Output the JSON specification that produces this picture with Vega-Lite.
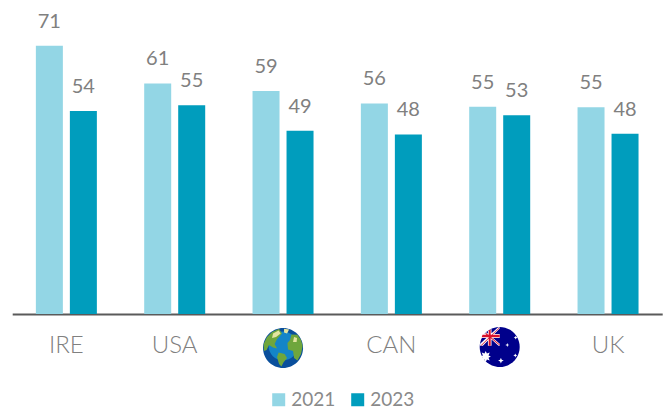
{
"$schema":"https://vega.github.io/schema/vega-lite/v6.json",
"width":650,"height":309,
"autosize":{"type":"none"},
"padding":{"left":12.2,"top":5,"right":5.8,"bottom":96},
"background":"white",
"config":{"view":{"stroke":null},"font":"Lato"},
"datasets":{
"bars":[
{"country":"IRE","year":"2021","value":71,"label":71},
{"country":"IRE","year":"2023","value":53.7,"label":54},
{"country":"USA","year":"2021","value":61,"label":61},
{"country":"USA","year":"2023","value":55.2,"label":55},
{"country":"Global","year":"2021","value":59,"label":59},
{"country":"Global","year":"2023","value":48.5,"label":49},
{"country":"CAN","year":"2021","value":55.7,"label":56},
{"country":"CAN","year":"2023","value":47.5,"label":48},
{"country":"AUS","year":"2021","value":54.8,"label":55},
{"country":"AUS","year":"2023","value":52.6,"label":53},
{"country":"UK","year":"2021","value":54.7,"label":55},
{"country":"UK","year":"2023","value":47.7,"label":48}
],
"g":[{"country":"Global"}],
"a":[{"country":"AUS"}]
},
"data":{"name":"bars"},
"encoding":{
"x":{"field":"country","type":"nominal","sort":null,"title":null,
"scale":{"paddingInner":0,"paddingOuter":0},
"axis":{"domainColor":"#5a5a5a","domainWidth":2,"ticks":false,"labelAngle":0,"labelFont":"Lato","labelFontWeight":300,"labelFontSize":24,"labelColor":"#808080","labelPadding":19,"grid":false,
"labelExpr":"datum.value=='Global'||datum.value=='AUS'?'':datum.label"}}
},
"layer":[
{"mark":{"type":"bar","opacity":1},
"encoding":{
"xOffset":{"field":"year","type":"nominal","scale":{"paddingInner":0.206,"paddingOuter":0.696}},
"y":{"field":"value","type":"quantitative","axis":null,"scale":{"domain":[0,81.75],"nice":false}},
"color":{"field":"year","type":"nominal","scale":{"domain":["2021","2023"],"range":["#93d6e5","#009dbd"]},
"legend":{"title":null,"orient":"none","legendX":257,"legendY":385,"direction":"horizontal","symbolType":"square","symbolSize":169,"symbolStrokeWidth":0,"symbolOpacity":1,"labelFont":"Lato","labelFontWeight":400,"labelFontSize":19,"labelColor":"#8a8a8a","labelOffset":3,"columnPadding":12,"symbolLimit":2}}
}},
{"mark":{"type":"text","font":"Lato","fontWeight":400,"fontSize":20,"color":"#808080","baseline":"middle","dy":-24},
"encoding":{
"xOffset":{"field":"year","type":"nominal","scale":{"paddingInner":0.206,"paddingOuter":0.696}},
"y":{"field":"value","type":"quantitative","axis":null},
"text":{"field":"label","type":"quantitative"}
}},
{"data":{"name":"g"},"mark":{"type":"point","filled":true,"opacity":1,"strokeWidth":0,"size":1600,"yOffset":34,"color":"#0a4f9c","shape":"M-1,0A1,1 0 1,1 1,0A1,1 0 1,1 -1,0Z"},
"encoding":{"y":{"datum":0,"type":"quantitative","axis":null}}},
{"data":{"name":"g"},"mark":{"type":"point","filled":true,"opacity":1,"strokeWidth":0,"size":1600,"yOffset":34,"color":"#1485c8","shape":"M-.72,-.1A.72,.72 0 1,1 .72,-.1A.72,.72 0 1,1 -.72,-.1Z"},
"encoding":{"y":{"datum":0,"type":"quantitative","axis":null}}},
{"data":{"name":"g"},"mark":{"type":"point","filled":true,"opacity":1,"strokeWidth":0,"size":1600,"yOffset":34,"color":"#6fa63c","shape":"M-.55,-.8L-.2,-.95L-.05,-.72L-.3,-.45L-.42,-.2L-.3,.02L-.5,-.02L-.7,-.15L-.82,.1L-.95,.15L-.97,-.2L-.8,-.55ZM-.22,.22L.08,.3L.2,.5L.02,.72L-.08,.92L-.2,.8L-.3,.45ZM.42,-.68L.72,-.66L.9,-.4L.98,-.1L.9,.3L.72,.62L.55,.5L.5,.15L.25,.08L.22,-.25L.35,-.4Z"},
"encoding":{"y":{"datum":0,"type":"quantitative","axis":null}}},
{"data":{"name":"g"},"mark":{"type":"point","filled":true,"opacity":1,"strokeWidth":0,"size":1600,"yOffset":34,"color":"#e3e5a0","shape":"M-.5,-.72L-.22,-.88L-.12,-.72L-.35,-.55L-.55,-.5ZM.05,-.96L.3,-.92L.2,-.72L.05,-.78ZM.55,-.55L.7,-.5L.68,-.3L.5,-.3Z"},
"encoding":{"y":{"datum":0,"type":"quantitative","axis":null}}},
{"data":{"name":"a"},"mark":{"type":"point","filled":true,"opacity":1,"strokeWidth":0,"size":1600,"yOffset":33,"color":"#00008b","shape":"M-1,0A1,1 0 1,1 1,0A1,1 0 1,1 -1,0Z"},
"encoding":{"y":{"datum":0,"type":"quantitative","axis":null}}},
{"data":{"name":"a"},"mark":{"type":"point","filled":true,"opacity":1,"strokeWidth":0,"size":1600,"yOffset":33,"color":"#ffffff","shape":"M-.74,-.67L-.67,-.74L0,-.16L0,-.06L-.06,-.06ZM-.08,-.99L0,-.99L0,-.92L-.84,-.06L-.98,-.06L-.98,-.16ZM-.59,-.8L-.41,-.9L-.41,-.06L-.59,-.06ZM-.84,-.65L0,-.65L0,-.45L-.94,-.45Z M-.7,.2L-.64,.33L-.5,.28L-.56,.42L-.44,.48L-.56,.54L-.5,.68L-.64,.62L-.7,.76L-.76,.62L-.9,.68L-.84,.54L-.96,.48L-.84,.42L-.9,.28L-.76,.33Z M.38,-.2L.41,-.13L.48,-.1L.41,-.07L.38,0L.35,-.07L.28,-.1L.35,-.13Z M.8,-.56L.83,-.5L.9,-.47L.83,-.44L.8,-.38L.77,-.44L.7,-.47L.77,-.5Z M.78,.32L.81,.39L.88,.42L.81,.45L.78,.52L.75,.45L.68,.42L.75,.39Z M.06,.54L.1,.64L.2,.68L.1,.72L.06,.82L.02,.72L-.08,.68L.02,.64Z"},
"encoding":{"y":{"datum":0,"type":"quantitative","axis":null}}},
{"data":{"name":"a"},"mark":{"type":"point","filled":true,"opacity":1,"strokeWidth":0,"size":1600,"yOffset":33,"color":"#d8102c","shape":"M-.72,-.66L-.68,-.7L0,-.12L0,-.08ZM-.04,-.96L0,-.96L-.9,-.08L-.95,-.08ZM-.55,-.84L-.45,-.88L-.45,-.06L-.55,-.06ZM-.86,-.61L0,-.61L0,-.49L-.9,-.49Z"},
"encoding":{"y":{"datum":0,"type":"quantitative","axis":null}}}
]
}
